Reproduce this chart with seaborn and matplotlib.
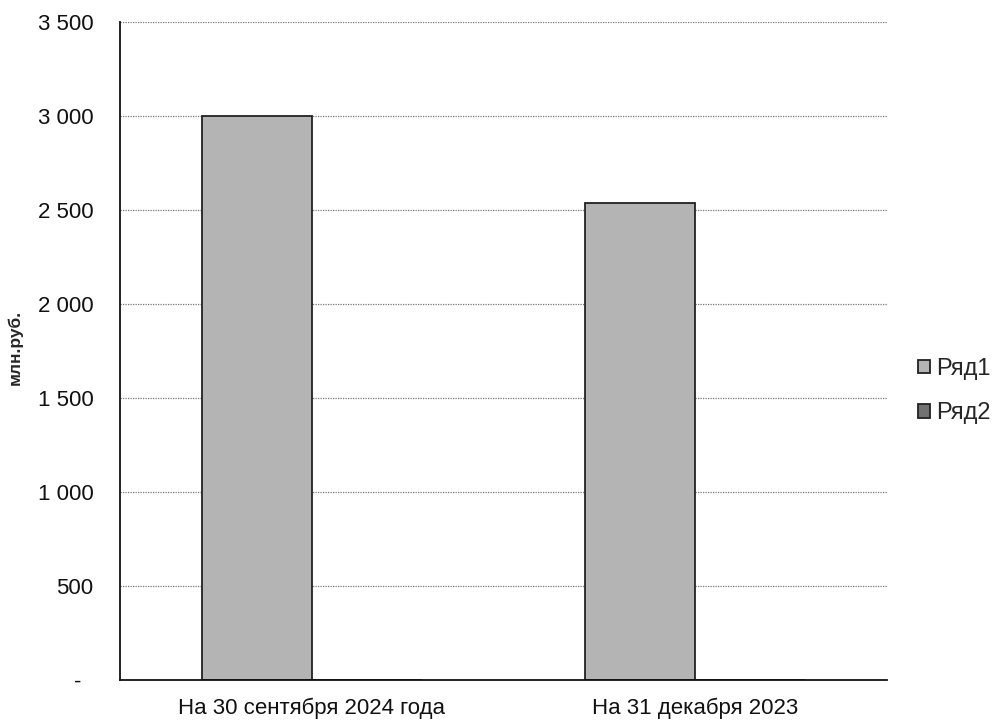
import matplotlib
matplotlib.use("Agg")
import matplotlib.pyplot as plt
import pandas as pd
import seaborn as sns

categories = ["На 30 сентября 2024 года", "На 31 декабря 2023"]
series_names = ["Ряд1", "Ряд2"]
values_r1 = [3000, 2535]
values_r2 = [0, 0]
y_ticks = [0, 500, 1000, 1500, 2000, 2500, 3000, 3500]

df = pd.DataFrame({
    "category": categories * 2,
    "series": [series_names[0]] * 2 + [series_names[1]] * 2,
    "value": values_r1 + values_r2,
})

sns.set_style("white")
plt.rcParams['font.family'] = ['Liberation Sans', 'DejaVu Sans']

fig = plt.figure(figsize=(9.94, 7.27), dpi=100)
ax = fig.add_axes([0.1207, 0.0646, 0.7716, 0.9051])

colors = {"Ряд1": "#b4b4b4", "Ряд2": "#727272"}
sns.barplot(data=df, x="category", y="value", hue="series", order=categories,
            hue_order=series_names, palette=colors, width=0.573, dodge=True,
            edgecolor="#222222", linewidth=1.3, ax=ax, legend=True)

ax.set_ylim(0, 3500)
ax.set_xlim(-0.5, 1.5)
ax.set_yticks(y_ticks)

def fmt(v):
    # accounting style: zero shown as a dash
    if v == 0:
        return "-  "
    return f"{v:,.0f}".replace(",", " ")

ax.set_yticklabels([fmt(v) for v in y_ticks])
ax.tick_params(axis="both", length=0, labelsize=16, colors="#111111")
ax.tick_params(axis="y", pad=19)
ax.tick_params(axis="x", pad=13)

# dotted gridlines like the original
for v in y_ticks[1:]:
    ax.axhline(v, color="#777777", linestyle=(0, (1, 1)), linewidth=0.9, zorder=0)

for side in ["top", "right"]:
    ax.spines[side].set_visible(False)
for side in ["left", "bottom"]:
    ax.spines[side].set_color("#111111")
    ax.spines[side].set_linewidth(1.3)

ax.set_xlabel("")
ax.set_ylabel("млн.руб.", fontsize=12.5, fontweight="bold")
ax.yaxis.set_label_coords(-0.127, 0.505)

handles, labels = ax.get_legend_handles_labels()
ax.legend(handles, labels, loc="center left", bbox_to_anchor=(0.924, 0.462),
          bbox_transform=fig.transFigure, frameon=False, fontsize=17,
          handlelength=0.5, handleheight=0.5, handletextpad=0.25,
          labelspacing=0.95, borderpad=0, borderaxespad=0)

fig.savefig("out.png", dpi=100, facecolor="white")
